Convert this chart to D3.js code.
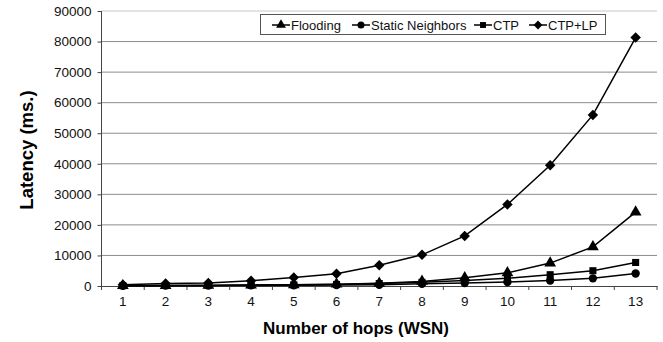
<!DOCTYPE html>
<html>
<head>
<meta charset="utf-8">
<script src="https://cdn.jsdelivr.net/npm/d3@7"></script>
<style>
  body { margin: 0; background: #fff; }
  svg { font-family: "Liberation Sans", Arial, sans-serif; }
</style>
</head>
<body>
<div id="chart"></div>
<script>
// data
const hops = [1, 2, 3, 4, 5, 6, 7, 8, 9, 10, 11, 12, 13];
const flooding = [100, 150, 200, 300, 400, 600, 900, 1500, 2700, 4300, 7500, 12800, 24200];
const staticNeighbors = [100, 120, 150, 200, 250, 300, 400, 700, 1000, 1300, 1800, 2500, 4100];
const ctp = [100, 150, 200, 300, 400, 500, 800, 1200, 1800, 2500, 3700, 5000, 7700];
const ctpLp = [400, 800, 1000, 1700, 2800, 4000, 6800, 10200, 16400, 26700, 39500, 56000, 81300];
const yTicks = [0, 10000, 20000, 30000, 40000, 50000, 60000, 70000, 80000, 90000];

const series = [
  { name: "Flooding", values: flooding, symbol: d3.symbolTriangle, size: 60 },
  { name: "Static Neighbors", values: staticNeighbors, symbol: d3.symbolCircle, size: 55 },
  { name: "CTP", values: ctp, symbol: d3.symbolSquare, size: 50 },
  { name: "CTP+LP", values: ctpLp, symbol: d3.symbolDiamond2, size: 70 }
];

const width = 663, height = 342;
const plotLeft = 101.5, plotRight = 657, plotTop = 11, plotBottom = 286;

const svg = d3.select("#chart").append("svg")
  .attr("width", width)
  .attr("height", height);

const x = d3.scaleBand().domain(hops).range([plotLeft, plotRight]);
const y = d3.scaleLinear().domain([0, 90000]).range([plotBottom, plotTop]);

// gridlines
svg.append("g")
  .selectAll("line")
  .data(yTicks.filter(d => d > 0))
  .enter()
  .append("line")
  .attr("x1", plotLeft)
  .attr("x2", plotRight)
  .attr("y1", d => y(d))
  .attr("y2", d => y(d))
  .attr("stroke", d => d === 90000 ? "#c8c8c8" : "#8c8c8c")
  .attr("stroke-width", 1);

// y axis
const yAxis = svg.append("g")
  .attr("transform", "translate(" + plotLeft + ",0)")
  .call(d3.axisLeft(y).tickValues(yTicks).tickSize(4).tickPadding(6).tickFormat(d3.format("d")));
yAxis.select(".domain").attr("d", "M0," + (plotBottom + 4) + "V" + plotTop).attr("stroke", "#444");
yAxis.selectAll(".tick line").attr("stroke", "#444");
yAxis.selectAll("text").style("font-size", "13.5px").attr("fill", "#111");

// x axis
const xAxis = svg.append("g")
  .attr("transform", "translate(0," + plotBottom + ")")
  .call(d3.axisBottom(x).tickSize(0).tickPadding(10));
xAxis.select(".domain").attr("stroke", "#444");
xAxis.selectAll("text").style("font-size", "13.5px").attr("fill", "#111");
// tick marks between categories
xAxis.selectAll(".sep")
  .data(hops)
  .enter()
  .append("line")
  .attr("class", "sep")
  .attr("x1", d => x(d) + x.bandwidth())
  .attr("x2", d => x(d) + x.bandwidth())
  .attr("y1", 0)
  .attr("y2", 4)
  .attr("stroke", "#444");

// axis titles
svg.append("text")
  .attr("x", 356)
  .attr("y", 334)
  .style("text-anchor", "middle")
  .style("font-weight", "bold")
  .style("font-size", "17px")
  .text("Number of hops (WSN)");

svg.append("text")
  .attr("transform", "translate(33,150) rotate(-90)")
  .style("text-anchor", "middle")
  .style("font-weight", "bold")
  .style("font-size", "18.5px")
  .text("Latency (ms.)");

// lines and markers
const line = d3.line()
  .x((d, i) => x(hops[i]) + x.bandwidth() / 2)
  .y(d => y(d));

series.forEach(function (s) {
  svg.append("path")
    .datum(s.values)
    .attr("fill", "none")
    .attr("stroke", "#000")
    .attr("stroke-width", 1.5)
    .attr("d", line);

  svg.append("g")
    .selectAll("path")
    .data(s.values)
    .enter()
    .append("path")
    .attr("d", d3.symbol().type(s.symbol).size(s.size))
    .attr("transform", (d, i) => "translate(" + (x(hops[i]) + x.bandwidth() / 2) + "," + y(d) + ")")
    .attr("fill", "#000");
});

// legend
const legend = svg.append("g");
legend.append("rect")
  .attr("x", 260.5)
  .attr("y", 14.5)
  .attr("width", 345)
  .attr("height", 20)
  .attr("fill", "#fff")
  .attr("stroke", "#555");

const legendX = [272, 352, 474, 529];
series.forEach(function (s, i) {
  const g = legend.append("g").attr("transform", "translate(" + legendX[i] + ",25)");
  g.append("line").attr("x1", 0).attr("x2", 18).attr("stroke", "#000").attr("stroke-width", 1.5);
  g.append("path")
    .attr("d", d3.symbol().type(s.symbol).size(s.size * 0.7))
    .attr("transform", "translate(9,0)")
    .attr("fill", "#000");
  g.append("text")
    .attr("x", 19)
    .attr("y", 4.5)
    .style("font-size", "13px")
    .attr("fill", "#111")
    .text(s.name);
});
</script>
</body>
</html>
